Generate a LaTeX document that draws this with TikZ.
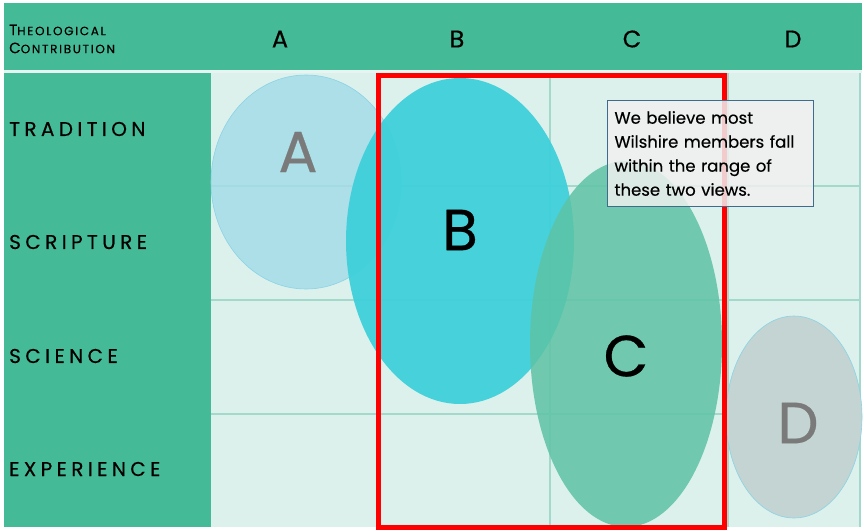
\documentclass[tikz,border=0pt]{standalone}
\usepackage{fontspec}
\setmainfont{Poppins}
\definecolor{hdr}{HTML}{45BA96}
\definecolor{cell}{HTML}{DCF1EC}
\definecolor{gridc}{HTML}{A3D9CA}
\definecolor{elA}{HTML}{A5DCE8}
\definecolor{elB}{HTML}{3ED0DB}
\definecolor{elC}{HTML}{5EC3A5}
\definecolor{elD}{HTML}{C3D4D2}
\definecolor{edgeb}{HTML}{8AD3E6}
\definecolor{boxedge}{HTML}{3F6B8C}
\definecolor{lettergray}{HTML}{7A7A7A}
\tikzset{
  rowlab/.style={anchor=west,font=\fontsize{20}{22}\selectfont\addfontfeatures{LetterSpace=22,FakeBold=0.3},text=black,inner sep=0pt},
  collab/.style={font=\fontsize{24}{26}\selectfont\addfontfeatures{FakeBold=0.4},text=black,inner sep=0pt},
  biglet/.style={font=\fontsize{58}{60}\selectfont\addfontfeatures{FakeBold=0.5},inner sep=0pt},
  gridline/.style={draw=gridc,line width=1.2pt},
}
\begin{document}
\begin{tikzpicture}[x=1pt,y=-1pt]
\useasboundingbox (0,0) rectangle (864,530);
\fill[white] (0,0) rectangle (864,530);
% header and left column
\fill[hdr] (4,3) rectangle (862,70);
\fill[cell!70!white] (4,70) rectangle (862,73);
\fill[hdr] (4,73) rectangle (211,527);
\fill[cell] (211,73) rectangle (860,527);
% grid
\draw[gridline] (211,186) -- (860,186);
\draw[gridline] (211,300) -- (860,300);
\draw[gridline] (211,414) -- (860,414);
\draw[gridline] (378,73) -- (378,527);
\draw[gridline] (550,73) -- (550,527);
\draw[gridline] (728,73) -- (728,527);
\draw[gridline] (860,73) -- (860,527);
% header labels
\node[anchor=west,inner sep=0pt,align=left,font=\fontsize{15}{18}\selectfont\addfontfeatures{LetterSpace=14,FakeBold=0.3}] (hd) at (9,39)
  {T{\fontsize{12}{12}\selectfont HEOLOGICAL}\\C{\fontsize{12}{12}\selectfont ONTRIBUTION}};
\node[collab] (ca) at (280,39) {A};
\node[collab] (cb) at (457,39) {B};
\node[collab] (cc) at (632,39) {C};
\node[collab] (cd) at (793,39) {D};
% row labels
\node[rowlab] (r1) at (9,129) {TRADITION};
\node[rowlab] (r2) at (9,242) {SCRIPTURE};
\node[rowlab] (r3) at (9,356) {SCIENCE};
\node[rowlab] (r4) at (9,469) {EXPERIENCE};
% ellipses
\fill[elA,fill opacity=0.85,draw=edgeb,line width=0.6pt] (306,182) ellipse [x radius=95,y radius=107];
\fill[elB,fill opacity=0.95] (460,241) ellipse [x radius=114,y radius=163];
\fill[elC,fill opacity=0.85] (626,344) ellipse [x radius=96,y radius=183];
\fill[elD,draw=edgeb,line width=0.6pt] (794,417) ellipse [x radius=68,y radius=101];
% letters
\node[biglet,text=lettergray] (la) at (298,152) {A};
\node[biglet,text=black] (lb) at (460,230) {B};
\node[biglet,text=black] (lc) at (626,356) {C};
\node[biglet,text=lettergray] (ld) at (798,423) {D};
% red range rectangle
\draw[red,line width=5pt] (378,75.5) rectangle (724.5,527);
% text box
\node[draw=boxedge,line width=1pt,fill=white!94!black,fill opacity=0.85,text opacity=1,
  minimum width=206,minimum height=106,anchor=north west,inner xsep=7pt,inner ysep=0pt,
  align=left,text width=192,font=\fontsize{16.5}{24}\selectfont\addfontfeatures{FakeBold=0.4}] (note) at (607,100)
  {We believe most\\Wilshire members fall\\within the range of\\these two views.};
\end{tikzpicture}
\end{document}
